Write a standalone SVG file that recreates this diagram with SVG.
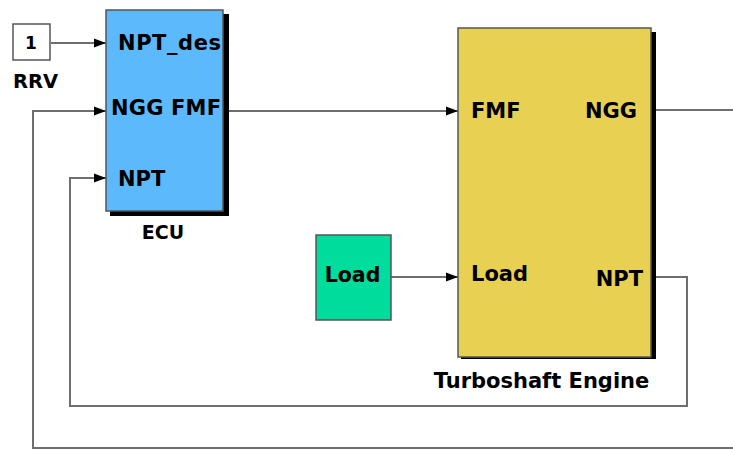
<svg xmlns="http://www.w3.org/2000/svg" width="733" height="450" viewBox="0 0 733 450">
<defs>
<marker id="arr" viewBox="0 0 12 10" refX="12" refY="5" markerWidth="12" markerHeight="10" markerUnits="userSpaceOnUse" orient="auto"><path d="M0,0.5 L12,5 L0,9.5 z" fill="#000"/></marker>
<style>
.t{font-family:"DejaVu Sans","Liberation Sans",sans-serif;font-weight:bold;fill:#000}
.w{fill:none;stroke:#6e6e6e;stroke-width:2}
.blk{stroke:#555;stroke-width:1.5}
.sh{fill:#000}
</style>
</defs>
<rect width="733" height="450" fill="#fff"/>
<g id="connectors">
<path class="w" d="M51,43 H106" marker-end="url(#arr)"/>
<path class="w" d="M223,111 H458" marker-end="url(#arr)"/>
<path class="w" d="M391,277 H458" marker-end="url(#arr)"/>
<path class="w" d="M656,110 H733"/>
<path class="w" d="M656,277 H687 V406 H70 V178 H106" marker-end="url(#arr)"/>
<path class="w" d="M733,448 H33 V111 H106" marker-end="url(#arr)"/>
</g>
<g id="rrv">
<rect x="13" y="24" width="37" height="36" fill="#fff" class="blk"/>
<text class="t" x="31" y="49" font-size="17" text-anchor="middle">1</text>
<text class="t" x="13" y="88" font-size="19.5">RRV</text>
</g>
<g id="ecu">
<rect class="sh" x="110" y="14" width="119" height="202"/>
<rect x="106" y="10" width="117" height="201" fill="#5cb9fc" class="blk"/>
<text class="t" x="118" y="50" font-size="21" textLength="103">NPT_des</text>
<text class="t" x="111" y="115" font-size="21" textLength="110">NGG FMF</text>
<text class="t" x="118" y="186" font-size="21">NPT</text>
<text class="t" x="163" y="239" font-size="19" text-anchor="middle">ECU</text>
</g>
<g id="load">
<rect x="316" y="235" width="75" height="85" fill="#00dc9c" class="blk"/>
<text class="t" x="352.5" y="282" font-size="20.5" text-anchor="middle">Load</text>
</g>
<g id="engine">
<rect class="sh" x="461" y="32" width="195" height="327"/>
<rect x="458" y="28" width="193" height="329" fill="#e8d152" class="blk"/>
<text class="t" x="471" y="118" font-size="21">FMF</text>
<text class="t" x="637" y="118" font-size="21" text-anchor="end">NGG</text>
<text class="t" x="471" y="281" font-size="21">Load</text>
<text class="t" x="643" y="286" font-size="21" text-anchor="end">NPT</text>
<text class="t" x="541.5" y="388" font-size="21" text-anchor="middle">Turboshaft Engine</text>
</g>
</svg>
